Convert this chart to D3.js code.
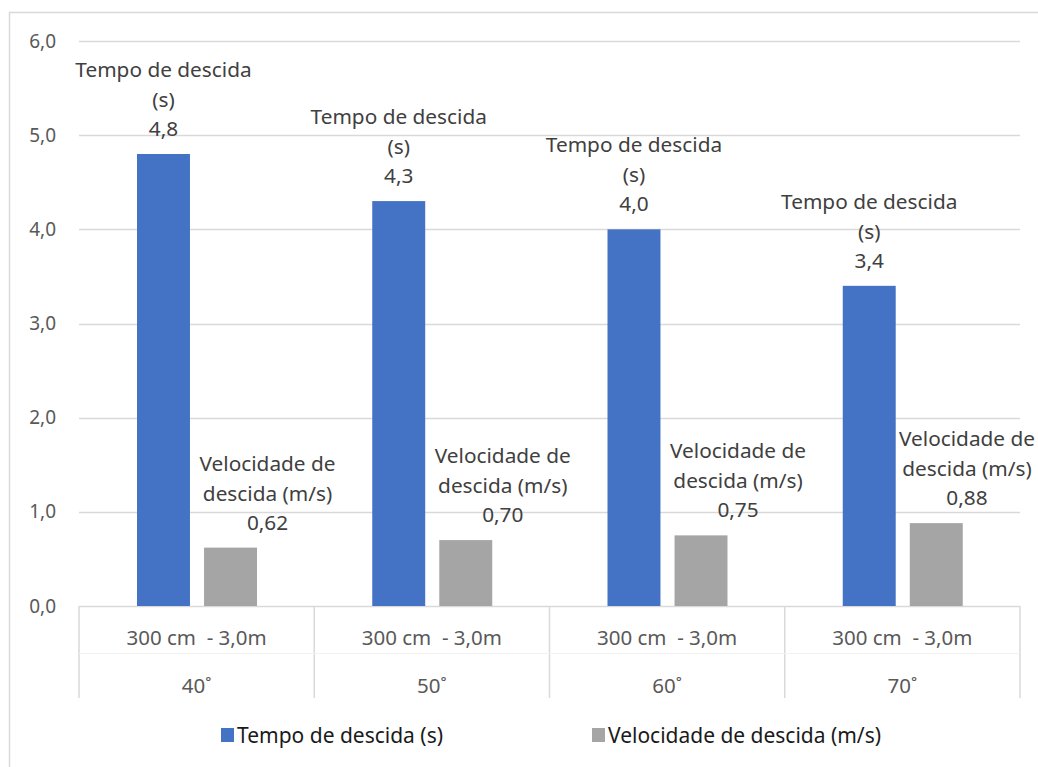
<!DOCTYPE html>
<html>
<head>
<meta charset="utf-8">
<script src="https://cdn.jsdelivr.net/npm/d3@7"></script>
<style>
  body { margin: 0; background: #fff; }
  svg text { font-family: "Noto Sans", "Open Sans", sans-serif; }
</style>
</head>
<body>
<svg id="chart" width="1038" height="767"></svg>
<script>
// data
var angles = ["40˚", "50˚", "60˚", "70˚"];
var distances = ["300 cm  - 3,0m", "300 cm  - 3,0m", "300 cm  - 3,0m", "300 cm  - 3,0m"];
var tempo = [4.8, 4.3, 4.0, 3.4];
var velocidade = [0.62, 0.70, 0.75, 0.88];
var seriesNames = ["Tempo de descida (s)", "Velocidade de descida (m/s)"];
var labelLines = [["Tempo de descida", "(s)"], ["Velocidade de", "descida (m/s)"]];
var yTicks = [0, 1, 2, 3, 4, 5, 6];

var colors = ["#4472C4", "#A5A5A5"];
var fmt1 = d => d.toFixed(1).replace(".", ",");
var fmt2 = d => d.toFixed(2).replace(".", ",");

function drawChart() {
    var svg = d3.select("svg#chart");

    // outer frame (runs off the right/bottom edge in the original)
    svg.append("rect")
        .attr("x", 9.5).attr("y", 12.5)
        .attr("width", 1040).attr("height", 770)
        .attr("fill", "#fff")
        .attr("stroke", "#D9D9D9")
        .attr("stroke-width", 1.5);

    var x = d3.scaleBand()
                .domain(d3.range(angles.length))
                .range([79, 1020]);

    var y = d3.scaleLinear()
                .domain([0, 6])
                .range([606, 41]);

    // gridlines
    svg.append("g")
        .selectAll("line")
        .data(yTicks)
        .enter()
        .append("line")
        .attr("x1", 79).attr("x2", 1020)
        .attr("y1", d => Math.round(y(d)) + 0.5)
        .attr("y2", d => Math.round(y(d)) + 0.5)
        .attr("stroke", "#D9D9D9")
        .attr("stroke-width", 1.3);

    // y axis labels
    svg.append("g")
        .selectAll("text")
        .data(yTicks)
        .enter()
        .append("text")
        .attr("x", 56)
        .attr("y", d => y(d))
        .attr("dy", "0.35em")
        .attr("text-anchor", "end")
        .attr("font-size", 19)
        .attr("fill", "#595959")
        .text(fmt1);

    // bars
    var inner = d3.scaleBand()
                .domain([0, 1])
                .range([58, 178])
                .paddingInner(0.21);

    var series = [tempo, velocidade];
    series.forEach(function(vals, s) {
        svg.append("g")
            .selectAll("rect")
            .data(vals)
            .enter()
            .append("rect")
            .attr("x", (d, i) => x(i) + inner(s))
            .attr("y", d => y(d))
            .attr("width", inner.bandwidth())
            .attr("height", d => y(0) - y(d))
            .attr("fill", colors[s]);
    });

    // data labels
    series.forEach(function(vals, s) {
        var g = svg.append("g");
        vals.forEach(function(v, i) {
            var cx = x(i) + inner(s) + inner.bandwidth() / 2;
            if (s === 1) cx = Math.min(cx + 37, 967);
            var top = y(v);
            var lines = labelLines[s].concat([s === 0 ? fmt1(v) : fmt2(v)]);
            var offs = [-77, -47, -18];
            lines.forEach(function(t, k) {
                g.append("text")
                    .attr("x", cx)
                    .attr("y", top + offs[k])
                    .attr("text-anchor", "middle")
                    .attr("font-size", 20.8)
                    .attr("fill", "#404040")
                    .text(t);
            });
        });
    });

    // category axis (two-level)
    var axisG = svg.append("g");
    axisG.selectAll("line.v")
        .data(d3.range(angles.length + 1))
        .enter()
        .append("line")
        .attr("class", "v")
        .attr("x1", i => i < angles.length ? x(i) : x.range()[1])
        .attr("x2", i => i < angles.length ? x(i) : x.range()[1])
        .attr("y1", 606)
        .attr("y2", 698)
        .attr("stroke", "#D9D9D9")
        .attr("stroke-width", 1.5);

    axisG.append("line")
        .attr("x1", 79).attr("x2", 1020)
        .attr("y1", 653.5).attr("y2", 653.5)
        .attr("stroke", "#F2F2F2")
        .attr("stroke-width", 1);

    axisG.selectAll("text.dist")
        .data(distances)
        .enter()
        .append("text")
        .attr("class", "dist")
        .attr("x", (d, i) => x(i) + x.bandwidth() / 2)
        .attr("y", 638)
        .attr("dy", "0.35em")
        .attr("text-anchor", "middle")
        .attr("font-size", 20.5)
        .attr("fill", "#595959")
        .style("white-space", "pre")
        .text(d => d);

    axisG.selectAll("text.ang")
        .data(angles)
        .enter()
        .append("text")
        .attr("class", "ang")
        .attr("x", (d, i) => x(i) + x.bandwidth() / 2)
        .attr("y", 686)
        .attr("dy", "0.35em")
        .attr("text-anchor", "middle")
        .attr("font-size", 20.5)
        .attr("fill", "#595959")
        .text(d => d);

    // legend
    var legX = [221, 592];
    var legW = [206, 273];
    var leg = svg.append("g")
                .selectAll("g")
                .data(seriesNames)
                .enter()
                .append("g")
                .attr("transform", (d, i) => "translate(" + legX[i] + ",735)");
    leg.append("rect")
        .attr("x", 0).attr("y", -7)
        .attr("width", 13).attr("height", 14)
        .attr("fill", (d, i) => colors[i]);
    leg.append("text")
        .attr("x", 16)
        .attr("y", 0)
        .attr("dy", "0.36em")
        .attr("font-size", 21.5)
        .attr("fill", "#1a1a1a")
        .attr("textLength", (d, i) => legW[i])
        .attr("lengthAdjust", "spacingAndGlyphs")
        .text(d => d);
}

drawChart();
</script>
</body>
</html>
